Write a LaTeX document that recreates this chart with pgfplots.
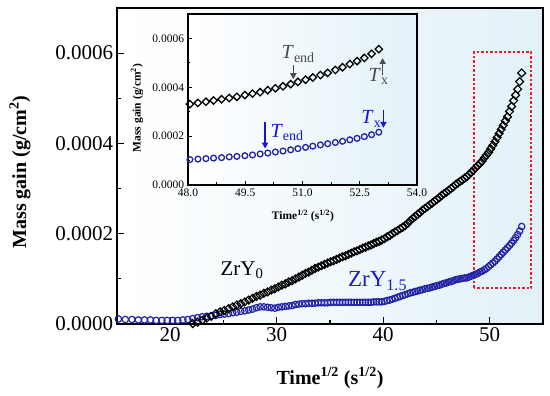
\documentclass[border=0pt]{standalone}
\usepackage{fontspec}
\setmainfont{Liberation Serif}
\usepackage{pgfplots}
\pgfplotsset{compat=1.18}
\usepackage{pgfplotstable}
\usetikzlibrary{arrows.meta}
\definecolor{zrblue}{RGB}{35,35,165}
\definecolor{annoblue}{RGB}{20,20,215}
\definecolor{labelblue}{RGB}{30,30,195}
\definecolor{annogray}{RGB}{75,75,75}
\definecolor{bgblue}{RGB}{226,241,248}
\definecolor{boxred}{RGB}{228,32,40}

% ZrY1.5 (blue circles): x = Time^(1/2), y = mass gain
\pgfplotstableread{
x y
15.13 0.000011
15.78 0.000010
16.40 0.000010
17.00 0.000009
17.58 0.000009
18.14 0.000009
18.68 0.000008
19.21 0.000008
19.72 0.000008
20.22 0.000008
20.71 0.000008
21.19 0.000009
21.66 0.000010
22.11 0.000012
22.56 0.000014
23.00 0.000016
23.43 0.000017
23.85 0.000018
24.27 0.000019
24.68 0.000021
25.08 0.000022
25.48 0.000023
25.87 0.000025
26.25 0.000026
26.63 0.000028
27.00 0.000029
27.37 0.000031
27.73 0.000033
28.09 0.000036
28.44 0.000038
28.79 0.000038
29.14 0.000037
29.48 0.000036
29.82 0.000035
30.15 0.000037
30.48 0.000038
30.81 0.000039
31.13 0.000040
31.45 0.000041
31.76 0.000043
32.08 0.000044
32.39 0.000045
32.70 0.000045
33.00 0.000046
33.30 0.000046
33.60 0.000046
33.90 0.000047
34.19 0.000047
34.48 0.000047
34.77 0.000047
35.06 0.000048
35.34 0.000048
35.62 0.000048
35.90 0.000048
36.18 0.000048
36.46 0.000048
36.73 0.000048
37.00 0.000048
37.27 0.000048
37.54 0.000048
37.80 0.000048
38.07 0.000048
38.33 0.000048
38.59 0.000048
38.85 0.000048
39.10 0.000049
39.36 0.000049
39.61 0.000049
39.86 0.000049
40.11 0.000050
40.36 0.000052
40.61 0.000053
40.85 0.000055
41.10 0.000057
41.34 0.000059
41.58 0.000061
41.82 0.000063
42.06 0.000065
42.30 0.000067
42.53 0.000069
42.77 0.000070
43.00 0.000072
43.23 0.000073
43.46 0.000075
43.69 0.000076
43.92 0.000078
44.15 0.000079
44.37 0.000080
44.60 0.000082
44.82 0.000083
45.04 0.000085
45.27 0.000086
45.49 0.000088
45.71 0.000090
45.92 0.000091
46.14 0.000093
46.36 0.000094
46.57 0.000096
46.79 0.000098
47.00 0.000099
47.21 0.000100
47.42 0.000101
47.63 0.000102
47.84 0.000102
48.05 0.000104
48.26 0.000106
48.47 0.000108
48.67 0.000110
48.88 0.000112
49.08 0.000115
49.28 0.000117
49.49 0.000120
49.69 0.000123
49.89 0.000127
50.09 0.000131
50.29 0.000135
50.49 0.000139
50.69 0.000144
50.88 0.000149
51.08 0.000154
51.27 0.000159
51.47 0.000164
51.66 0.000169
51.86 0.000174
52.05 0.000179
52.24 0.000185
52.43 0.000191
52.62 0.000198
52.81 0.000206
53.00 0.000216
}\bluedata

% ZrY0 (black diamonds)
\pgfplotstableread{
x y
22.11 0.000001
22.56 0.000004
23.00 0.000008
23.43 0.000013
23.85 0.000017
24.27 0.000023
24.68 0.000027
25.08 0.000030
25.48 0.000034
25.87 0.000038
26.25 0.000042
26.63 0.000045
27.00 0.000049
27.37 0.000053
27.73 0.000057
28.09 0.000061
28.44 0.000064
28.79 0.000068
29.14 0.000071
29.48 0.000075
29.82 0.000078
30.15 0.000082
30.48 0.000086
30.81 0.000089
31.13 0.000093
31.45 0.000096
31.76 0.000100
32.08 0.000104
32.39 0.000108
32.70 0.000112
33.00 0.000115
33.30 0.000119
33.60 0.000123
33.90 0.000126
34.19 0.000129
34.48 0.000132
34.77 0.000135
35.06 0.000138
35.34 0.000140
35.62 0.000143
35.90 0.000146
36.18 0.000149
36.46 0.000151
36.73 0.000154
37.00 0.000157
37.27 0.000160
37.54 0.000162
37.80 0.000165
38.07 0.000168
38.33 0.000170
38.59 0.000173
38.85 0.000175
39.10 0.000178
39.36 0.000181
39.61 0.000183
39.86 0.000186
40.11 0.000189
40.36 0.000193
40.61 0.000196
40.85 0.000200
41.10 0.000204
41.34 0.000207
41.58 0.000211
41.82 0.000214
42.06 0.000218
42.30 0.000223
42.53 0.000229
42.77 0.000234
43.00 0.000238
43.23 0.000243
43.46 0.000247
43.69 0.000252
43.92 0.000256
44.15 0.000260
44.37 0.000264
44.60 0.000268
44.82 0.000272
45.04 0.000276
45.27 0.000280
45.49 0.000285
45.71 0.000289
45.92 0.000292
46.14 0.000296
46.36 0.000300
46.57 0.000304
46.79 0.000309
47.00 0.000312
47.21 0.000316
47.42 0.000319
47.63 0.000323
47.84 0.000326
48.05 0.000331
48.26 0.000336
48.47 0.000341
48.67 0.000346
48.88 0.000351
49.08 0.000356
49.28 0.000361
49.49 0.000368
49.69 0.000374
49.89 0.000380
50.09 0.000388
50.29 0.000396
50.49 0.000404
50.69 0.000413
50.88 0.000422
51.08 0.000431
51.27 0.000440
51.47 0.000450
51.66 0.000459
51.86 0.000471
52.05 0.000482
52.24 0.000495
52.43 0.000507
52.62 0.000520
52.81 0.000537
53.00 0.000556
}\blackdata

\begin{document}
\begin{tikzpicture}
\useasboundingbox (0,0) rectangle (550pt,396pt);
% ---------------- main axis ----------------
\begin{axis}[
  at={(117pt,72pt)}, anchor=south west, scale only axis,
  width=426pt, height=316pt,
  xmin=15, xmax=55, ymin=0, ymax=0.0007,
  xtick={20,30,40,50}, minor xtick={25,35,45},
  ytick={0,0.0002,0.0004,0.0006}, minor ytick={0.0001,0.0003,0.0005},
  xtick pos=bottom, ytick pos=left, tick align=inside,
  major tick length=7pt, minor tick length=4pt,
  every tick/.style={black, line width=1.2pt},
  line width=1.3pt,
  scaled y ticks=false,
  /pgf/number format/assume math mode=true,
  tick label style={font=\fontsize{21}{24}\selectfont},
  y tick label style={/pgf/number format/fixed, /pgf/number format/fixed zerofill, /pgf/number format/precision=4},
  axis background/.style={shade, left color=white, right color=bgblue},
  xlabel={Time\textsuperscript{1/2} (s\textsuperscript{1/2})},
  ylabel={Mass gain (g/cm\textsuperscript{2})},
  xlabel style={font=\bfseries\fontsize{20}{24}\selectfont, at={(axis description cs:0.5,-0.171)}, anchor=center},
  ylabel style={font=\bfseries\fontsize{20}{24}\selectfont, at={(axis description cs:-0.228,0.481)}, anchor=center},
]
\addplot[only marks, mark=o, mark size=3.2pt, zrblue, line width=1.2pt,
  mark options={draw=zrblue}] table[x=x, y=y] {\bluedata};
\addplot[only marks, mark=square, mark size=2.8pt, black, line width=1.2pt,
  mark options={fill=none, draw=black, rotate=45}] table[x=x, y=y] {\blackdata};
\node[anchor=base west, font=\fontsize{21}{24}\selectfont, text=black, inner sep=0pt]
  at (axis cs:24.67,0.0001085) {ZrY\textsubscript{0}};
\node[anchor=base west, font=\fontsize{23}{26}\selectfont, text=labelblue, inner sep=0pt]
  at (axis cs:36.64,0.0000826) {ZrY\textsubscript{1.5}};
\draw[boxred, line width=2pt, dash pattern=on 2.5pt off 2pt]
  (axis cs:48.5,0.00008) rectangle (axis cs:53.9,0.000602);
\end{axis}
% ---------------- inset ----------------
\begin{axis}[
  at={(188pt,211pt)}, anchor=south west, scale only axis,
  width=229pt, height=171pt,
  xmin=48, xmax=54, ymin=0, ymax=0.0007,
  xtick={48,49.5,51,52.5,54}, minor xtick={48.75,50.25,51.75,53.25},
  ytick={0,0.0002,0.0004,0.0006}, minor ytick={0.0001,0.0003,0.0005},
  xtick pos=bottom, ytick pos=left, tick align=inside,
  major tick length=4pt, minor tick length=2.5pt,
  every tick/.style={black, line width=1pt},
  line width=1.2pt,
  scaled y ticks=false, scaled x ticks=false,
  /pgf/number format/assume math mode=true,
  tick label style={font=\fontsize{11.5}{13}\selectfont},
  y tick label style={/pgf/number format/fixed, /pgf/number format/fixed zerofill, /pgf/number format/precision=4},
  x tick label style={/pgf/number format/fixed, /pgf/number format/fixed zerofill, /pgf/number format/precision=1},
  axis background/.style={shade, left color=white, right color=bgblue},
  xlabel={Time\textsuperscript{1/2} (s\textsuperscript{1/2})},
  ylabel={Mass gain (g/cm\textsuperscript{2})},
  xlabel style={font=\bfseries\fontsize{11.5}{13}\selectfont, at={(axis description cs:0.502,-0.181)}, anchor=center},
  ylabel style={font=\bfseries\fontsize{11.5}{13}\selectfont, at={(axis description cs:-0.223,0.45)}, anchor=center},
]
\addplot[only marks, mark=o, mark size=2.9pt, zrblue, line width=1.3pt,
  mark options={draw=zrblue}, restrict x to domain=47.9:53.5] table[x=x, y=y] {\bluedata};
\addplot[only marks, mark=square, mark size=2.6pt, black, line width=1.3pt,
  mark options={fill=none, draw=black, rotate=45}, restrict x to domain=47.9:53.5] table[x=x, y=y] {\blackdata};
% annotations ZrY0
\node[anchor=base west, font=\fontsize{20}{22}\selectfont, text=annogray, inner sep=0pt]
  at (axis cs:50.44,0.000516) {\textit{T}\textsubscript{end}};
\draw[annogray, line width=1.5pt, -{Triangle[width=6pt,length=6pt]}]
  (axis cs:50.76,0.000491) -- (axis cs:50.76,0.000433);
\node[anchor=base west, font=\fontsize{20}{22}\selectfont, text=annogray, inner sep=0pt]
  at (axis cs:52.72,0.000423) {\textit{T}\textsubscript{x}};
\draw[annogray, line width=1.5pt, -{Triangle[width=6pt,length=6pt]}]
  (axis cs:53.1,0.00045) -- (axis cs:53.1,0.00052);
% annotations ZrY1.5
\node[anchor=base west, font=\fontsize{20}{22}\selectfont, text=annoblue, inner sep=0pt]
  at (axis cs:50.15,0.000196) {\textit{T}\textsubscript{end}};
\draw[annoblue, line width=1.5pt, -{Triangle[width=6pt,length=6pt]}]
  (axis cs:50.02,0.000257) -- (axis cs:50.02,0.000149);
\node[anchor=base west, font=\fontsize{20}{22}\selectfont, text=annoblue, inner sep=0pt]
  at (axis cs:52.53,0.00025) {\textit{T}\textsubscript{x}};
\draw[annoblue, line width=1.5pt, -{Triangle[width=6pt,length=6pt]}]
  (axis cs:53.12,0.000307) -- (axis cs:53.12,0.000234);
\end{axis}
\end{tikzpicture}
\end{document}
